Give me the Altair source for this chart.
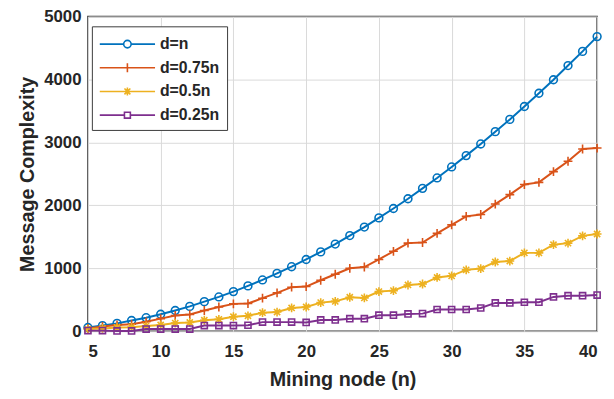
import altair as alt
import pandas as pd

# ---- data ----
n_nodes = list(range(5, 41))

d_n = [60, 90, 125, 170, 215, 270, 330, 395, 470, 545, 630, 720, 815, 920, 1025,
       1140, 1260, 1385, 1520, 1655, 1800, 1950, 2105, 2270, 2435, 2610, 2790, 2975,
       3170, 3365, 3570, 3780, 3995, 4220, 4445, 4680]

d_075n = [45, 75, 100, 110, 150, 200, 250, 265, 330, 385, 435, 440, 525, 610, 700,
          710, 810, 905, 1000, 1020, 1140, 1270, 1400, 1410, 1555, 1690, 1825, 1855,
          2020, 2170, 2330, 2365, 2535, 2700, 2895, 2910]

d_05n = [35, 45, 60, 65, 85, 100, 130, 140, 175, 190, 230, 245, 295, 305, 370,
         385, 455, 475, 540, 530, 630, 645, 735, 750, 855, 880, 975, 995,
         1100, 1115, 1245, 1245, 1375, 1400, 1515, 1545]

d_025n = [10, 10, 5, 5, 35, 35, 35, 35, 90, 90, 90, 95, 145, 145, 145,
          140, 180, 180, 200, 200, 255, 255, 275, 280, 345, 345, 345, 370,
          450, 450, 460, 460, 545, 565, 565, 575]

series_names = ["d=n", "d=0.75n", "d=0.5n", "d=0.25n"]
series_values = [d_n, d_075n, d_05n, d_025n]
colors = ["#0072BD", "#D95319", "#EDB120", "#7E2F8E"]

x_ticks = [5, 10, 15, 20, 25, 30, 35, 40]
y_ticks = [0, 1000, 2000, 3000, 4000, 5000]

# ---- styles ----
marker_shapes = [
    "circle",
    "M-1,0H1M0,-1V1",
    "M-1,0H1M0,-1V1M-0.7,-0.7L0.7,0.7M-0.7,0.7L0.7,-0.7",
    "square",
]
marker_sizes = [62, 80, 80, 38]

legend_shapes = [
    "M-1,0H1.42M2.18,0H4.6M2.18,0A0.38,0.38 0 1 1 1.42,0A0.38,0.38 0 1 1 2.18,0",
    "M-1,0H4.6M1.8,-0.45V0.45",
    "M-1,0H4.6M1.8,-0.4V0.4M1.5,-0.3L2.1,0.3M1.5,0.3L2.1,-0.3",
    "M-1,0H1.5M2.1,0H4.6M1.5,-0.3H2.1V0.3H1.5Z",
]

rows = []
for name, vals in zip(series_names, series_values):
    for n, v in zip(n_nodes, vals):
        rows.append({"n": n, "value": v, "series": name})
df = pd.DataFrame(rows)

FONT = "Liberation Sans"
TXT = "#262626"

x_enc = alt.X(
    "n:Q",
    scale=alt.Scale(domain=[5, 40], nice=False),
    axis=alt.Axis(
        values=x_ticks, title="Mining node (n)", format="d",
        labelFont=FONT, labelFontSize=17, labelFontWeight="bold", labelColor=TXT,
        titleFont=FONT, titleFontSize=20, titleFontWeight="bold", titleColor=TXT,
        ticks=False, tickSize=0, labelPadding=13, titlePadding=10,
        domain=False, grid=True, gridColor="#d9d9d9", gridWidth=1,
    ),
)
y_enc = alt.Y(
    "value:Q",
    scale=alt.Scale(domain=[0, 5000], nice=False),
    axis=alt.Axis(
        values=y_ticks, title="Message Complexity", format="d",
        labelFont=FONT, labelFontSize=17, labelFontWeight="bold", labelColor=TXT,
        titleFont=FONT, titleFontSize=20, titleFontWeight="bold", titleColor=TXT,
        ticks=False, tickSize=0, labelPadding=7, titlePadding=6,
        domain=False, grid=True, gridColor="#d9d9d9", gridWidth=1,
    ),
)

base = alt.Chart(df)
layers = []
for name, col, shp, sz in zip(series_names, colors, marker_shapes, marker_sizes):
    sub = base.transform_filter(alt.datum.series == name)
    layers.append(sub.mark_line(color=col, strokeWidth=2).encode(x=x_enc, y=y_enc))
    layers.append(
        sub.mark_point(shape=shp, size=sz, color=col, filled=False, strokeWidth=1.6, opacity=1)
        .encode(x=x_enc, y=y_enc)
    )

legend_props = dict(
    orient="none", legendX=4, legendY=10, title=None,
    labelFont=FONT, labelFontSize=16, labelFontWeight="bold", labelColor=TXT,
    symbolSize=400, symbolStrokeWidth=1.6, symbolOpacity=1,
    labelOffset=40, rowPadding=5, padding=7,
    strokeColor="#3a3a3a", fillColor="white",
)

legend_layer = (
    base.transform_filter("false")
    .mark_point(filled=False, strokeWidth=1.6)
    .encode(
        x=x_enc, y=y_enc,
        color=alt.Color("series:N", sort=series_names,
                        scale=alt.Scale(domain=series_names, range=colors),
                        legend=alt.Legend(**legend_props)),
        shape=alt.Shape("series:N", sort=series_names,
                        scale=alt.Scale(domain=series_names, range=legend_shapes),
                        legend=alt.Legend(**legend_props)),
    )
)
layers.append(legend_layer)

chart = (
    alt.layer(*layers)
    .properties(
        width=516, height=319,
        padding={"left": 81, "top": 6, "right": 9, "bottom": 60},
        autosize=alt.AutoSizeParams(type="none"),
    )
    .configure_view(stroke="#333333", strokeWidth=1.5)
)

chart.save("out.html", embed_options={"renderer": "svg", "actions": False})
